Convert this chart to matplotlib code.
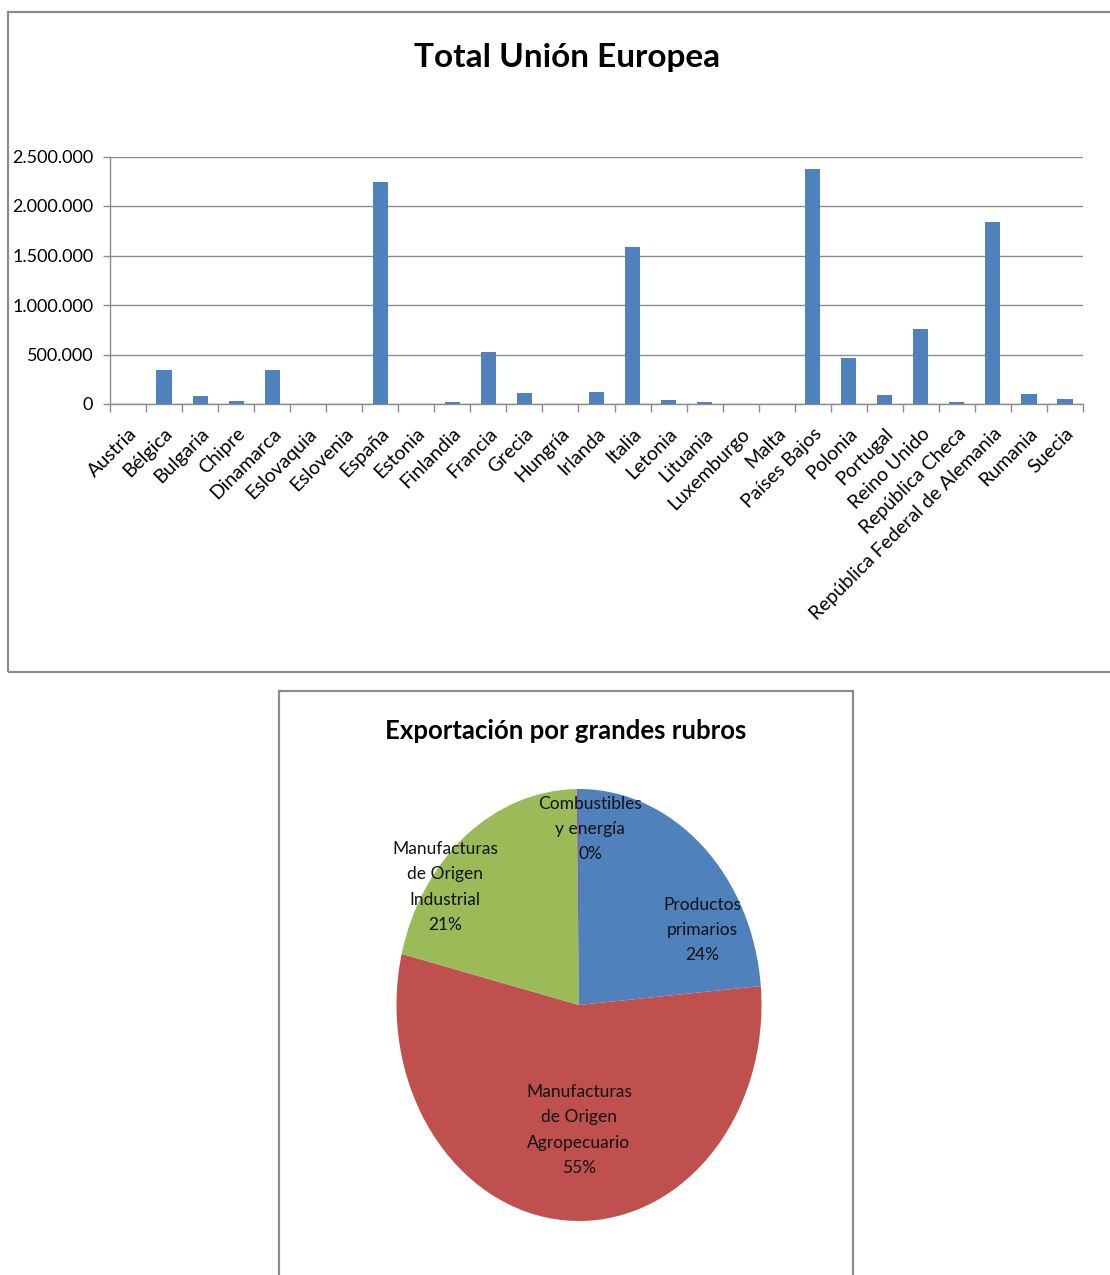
import matplotlib
matplotlib.use("Agg")
import matplotlib.pyplot as plt
from matplotlib.patches import Rectangle
from matplotlib.ticker import FuncFormatter, FixedLocator

plt.rcParams['font.family'] = ['Lato', 'DejaVu Sans']

countries = ["Austria", "Bélgica", "Bulgaria", "Chipre", "Dinamarca", "Eslovaquia",
             "Eslovenia", "España", "Estonia", "Finlandia", "Francia", "Grecia",
             "Hungría", "Irlanda", "Italia", "Letonia", "Lituania", "Luxemburgo",
             "Malta", "Países Bajos", "Polonia", "Portugal", "Reino Unido",
             "República Checa", "República Federal de Alemania", "Rumania", "Suecia"]
values = [2000, 347000, 77000, 30000, 347000, 1000,
          1000, 2244000, 2000, 20000, 526000, 108000,
          2000, 118000, 1587000, 40000, 20000, 1000,
          1000, 2369000, 462000, 88000, 755000,
          20000, 1840000, 98000, 51000]
y_ticks = [0, 500000, 1000000, 1500000, 2000000, 2500000]

pie_labels = ["Productos\nprimarios", "Manufacturas\nde Origen\nAgropecuario",
              "Manufacturas\nde Origen\nIndustrial", "Combustibles\ny energía"]
pie_values = [23.6, 55.2, 21.0, 0.2]
pie_pct = ["24%", "55%", "21%", "0%"]

W, H = 1110, 1275
fig = plt.figure(figsize=(W / 100, H / 100), dpi=100)

def fx(px):
    return px / W

def fy(py):
    return 1 - py / H

frame_col = "#8c8c8c"
# outer frames
fig.patches.append(Rectangle((fx(8), fy(672)), fx(1120) - fx(8), fy(12) - fy(672),
                             transform=fig.transFigure, fill=False,
                             edgecolor=frame_col, linewidth=1.6))
fig.patches.append(Rectangle((fx(279), fy(1290)), fx(853) - fx(279), fy(691) - fy(1290),
                             transform=fig.transFigure, fill=False,
                             edgecolor=frame_col, linewidth=1.6))

# ---- bar chart ----
ax = fig.add_axes([fx(110), fy(404), fx(1083) - fx(110), fy(156.5) - fy(404)])
xs = list(range(len(countries)))
ax.bar(xs, values, width=0.42, color="#4F81BD", edgecolor="none", zorder=3)
ax.set_xlim(-0.5, len(countries) - 0.5)
ax.set_ylim(0, 2500000)
ax.yaxis.set_major_locator(FixedLocator(y_ticks))
ax.yaxis.set_major_formatter(FuncFormatter(lambda v, p: f"{int(v):,}".replace(",", ".")))
ax.grid(axis="y", color="#8c8c8c", linewidth=1.0, zorder=0)
for s in ["top", "right"]:
    ax.spines[s].set_visible(False)
ax.spines["left"].set_color("#8c8c8c")
ax.spines["bottom"].set_color("#8c8c8c")
ax.spines["left"].set_linewidth(1.0)
ax.spines["bottom"].set_linewidth(1.0)
ax.set_xticks([i - 0.5 for i in range(len(countries) + 1)], minor=False)
ax.set_xticklabels([])
ax.set_xticks(xs, minor=True)
ax.set_xticklabels(countries, minor=True, rotation=45, ha="right", va="top",
                   rotation_mode="anchor", fontsize=14)
ax.tick_params(axis="x", which="minor", length=0, pad=15)
ax.tick_params(axis="x", which="major", length=6, color="#8c8c8c", width=1.0)
ax.tick_params(axis="y", length=5, color="#8c8c8c", width=1.0, labelsize=13, pad=7)
fig.text(fx(567), fy(57), "Total Unión Europea", ha="center", va="center",
         fontsize=24, fontweight="bold")

# ---- pie chart ----
pax = fig.add_axes([fx(396.5), fy(1221), fx(761.5) - fx(396.5), fy(789) - fy(1221)])
pax.pie(pie_values, colors=["#4F81BD", "#C0504D", "#9BBB59", "#8064A2"],
        startangle=90, counterclock=False, wedgeprops=dict(linewidth=0))
pax.set_aspect("auto")
pax.set_xlim(-1, 1)
pax.set_ylim(-1, 1)
pax.axis("off")
label_pos = [(0.674, 0.347), (0.0, -0.579), (-0.734, 0.546), (0.06, 0.815)]
for (x, y), lab, pct in zip(label_pos, pie_labels, pie_pct):
    pax.text(x, y, lab + "\n" + pct, ha="center", va="center", fontsize=12.5,
             linespacing=1.72, color="#111111")
fig.text(fx(566), fy(731), "Exportación por grandes rubros", ha="center", va="center",
         fontsize=18.5, fontweight="bold")

fig.savefig("out.png", dpi=100, facecolor="white")
